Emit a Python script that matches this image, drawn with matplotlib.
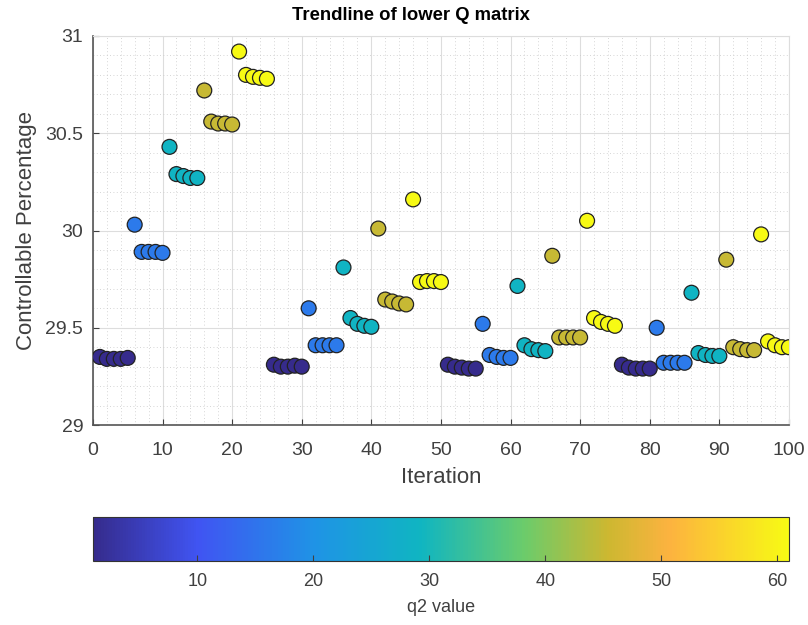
import numpy as np
import matplotlib.pyplot as plt
from matplotlib.colors import LinearSegmentedColormap
from matplotlib.ticker import MultipleLocator

plt.rcParams['font.family'] = ['Liberation Sans', 'DejaVu Sans']

# iteration 1..100, values
iteration = np.arange(1, 101)
ctrl_pct = [
    29.35, 29.34, 29.34, 29.34, 29.345,
    30.03, 29.89, 29.89, 29.89, 29.885,
    30.43, 30.29, 30.28, 30.27, 30.27,
    30.72, 30.56, 30.55, 30.55, 30.545,
    30.92, 30.80, 30.79, 30.785, 30.78,
    29.31, 29.30, 29.30, 29.305, 29.30,
    29.60, 29.41, 29.41, 29.41, 29.41,
    29.81, 29.55, 29.52, 29.51, 29.505,
    30.01, 29.645, 29.635, 29.625, 29.62,
    30.16, 29.735, 29.74, 29.74, 29.735,
    29.31, 29.30, 29.295, 29.29, 29.29,
    29.52, 29.36, 29.35, 29.345, 29.345,
    29.715, 29.41, 29.39, 29.385, 29.38,
    29.87, 29.45, 29.45, 29.45, 29.45,
    30.05, 29.55, 29.53, 29.52, 29.51,
    29.31, 29.295, 29.29, 29.29, 29.29,
    29.50, 29.32, 29.32, 29.32, 29.32,
    29.68, 29.37, 29.36, 29.355, 29.355,
    29.85, 29.40, 29.39, 29.385, 29.385,
    29.98, 29.43, 29.41, 29.40, 29.40,
]
# q2 value per block of 5 iterations (cycles through 5 levels)
q2_levels = [1, 16, 29, 45, 61]
q2 = np.tile(np.repeat(q2_levels, 5), 4)

# parula-like colormap
parula = LinearSegmentedColormap.from_list('parula_like', [
    (0.00, (0.21, 0.17, 0.55)),
    (0.15, (0.25, 0.33, 0.95)),
    (0.32, (0.12, 0.58, 0.90)),
    (0.47, (0.06, 0.71, 0.76)),
    (0.62, (0.42, 0.80, 0.42)),
    (0.74, (0.80, 0.72, 0.19)),
    (0.83, (0.99, 0.70, 0.25)),
    (1.00, (0.97, 0.98, 0.08)),
])

fig = plt.figure(figsize=(8.08, 6.25), dpi=100)
ax = fig.add_axes([0.115, 0.32, 0.8614, 0.6224])

sc = ax.scatter(iteration, ctrl_pct, c=q2, cmap=parula, vmin=1, vmax=61,
                s=115, edgecolors='#222222', linewidths=0.9, zorder=3)

ax.set_xlim(0, 100)
ax.set_ylim(29, 31)
ax.xaxis.set_major_locator(MultipleLocator(10))
ax.xaxis.set_minor_locator(MultipleLocator(2))
ax.yaxis.set_minor_locator(MultipleLocator(0.1))
ax.set_yticks([29, 29.5, 30, 30.5, 31])
ax.set_yticklabels(['29', '29.5', '30', '30.5', '31'])
ax.grid(which='major', color='#dddddd', linewidth=0.8)
ax.grid(which='minor', color='#c8c8c8', linestyle=(0, (1, 3)), linewidth=0.6)
ax.set_axisbelow(True)
ax.tick_params(which='both', direction='in', top=False, right=False,
               labelsize=14, colors='#404040', length=4)
ax.tick_params(axis='x', pad=12)
ax.tick_params(axis='y', pad=7)
ax.tick_params(which='minor', length=0)
for side in ['left', 'bottom']:
    ax.spines[side].set_color('#555555')
    ax.spines[side].set_linewidth(1.2)
for side in ['top', 'right']:
    ax.spines[side].set_color('#dddddd')

ax.set_xlabel('Iteration', fontsize=16, color='#404040', labelpad=6)
ax.set_ylabel('Controllable Percentage', fontsize=16, color='#404040', labelpad=6)
fig.text(0.509, 0.976, 'Trendline of lower Q matrix', fontsize=13.3,
         fontweight='bold', ha='center', va='center')

cax = fig.add_axes([0.115, 0.1024, 0.8614, 0.0704])
cb = fig.colorbar(sc, cax=cax, orientation='horizontal')
cb.set_ticks([10, 20, 30, 40, 50, 60])
cb.ax.tick_params(direction='in', labelsize=13, colors='#404040', length=4, pad=9)
cb.outline.set_edgecolor('#333333')
cb.set_label('q2 value', fontsize=13, color='#404040', labelpad=6)

fig.savefig('out.png', dpi=100)
